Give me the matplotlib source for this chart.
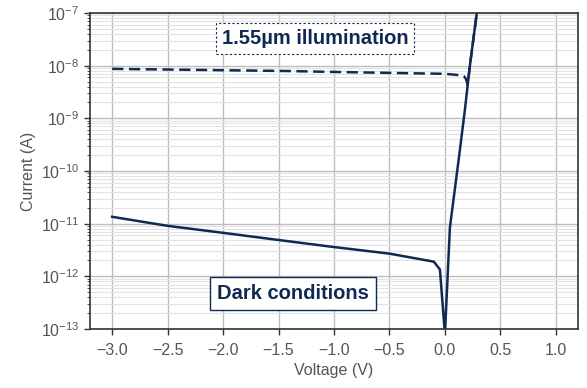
import numpy as np
import matplotlib.pyplot as plt
from matplotlib.ticker import LogLocator, NullFormatter

# dark current (solid)
v_dark = [-3.0, -2.5, -2.0, -1.5, -1.0, -0.5, -0.1, -0.045, 0.0, 0.045, 0.135, 0.18, 0.225, 0.29]
i_dark = [1.35e-11, 9.1e-12, 6.7e-12, 4.9e-12, 3.6e-12, 2.7e-12, 1.9e-12, 1.35e-12, 8e-14,
          8.5e-12, 2.5e-10, 1.45e-9, 1e-8, 1.1e-7]

# 1.55um illumination (dashed)
v_ill = [-3.0, -2.0, -1.4, -1.0, -0.5, 0.0, 0.135, 0.17, 0.19, 0.205, 0.225, 0.29]
i_ill = [8.7e-9, 8.2e-9, 7.9e-9, 7.6e-9, 7.3e-9, 7.0e-9, 6.6e-9, 6.3e-9, 5.6e-9, 4.3e-9, 1e-8, 1.1e-7]

xticks = [-3.0, -2.5, -2.0, -1.5, -1.0, -0.5, 0.0, 0.5, 1.0]

navy = "#0f2a52"
plt.rcParams['font.family'] = ['Liberation Sans', 'DejaVu Sans']
plt.rcParams['mathtext.fontset'] = 'custom'
plt.rcParams['mathtext.rm'] = 'Liberation Sans'
plt.rcParams['mathtext.it'] = 'Liberation Sans:italic'
plt.rcParams['mathtext.bf'] = 'Liberation Sans:bold'

fig = plt.figure(figsize=(5.87, 3.88), dpi=100)
ax = fig.add_axes([0.1533, 0.152, 0.8314, 0.8145])

ax.plot(v_dark, i_dark, color=navy, lw=1.8)
ax.plot(v_ill, i_ill, color=navy, lw=1.8, ls=(0, (4.5, 2.2)))

ax.set_yscale("log")
ax.set_xlim(-3.2, 1.2)
ax.set_ylim(1e-13, 1e-7)
ax.set_xticks(xticks)
ax.set_xticklabels([f"{t:.1f}".replace("-", "\u2212") for t in xticks])
ax.yaxis.set_major_locator(LogLocator(base=10, numticks=10))
ax.yaxis.set_minor_locator(LogLocator(base=10, subs=np.arange(2, 10), numticks=100))
ax.yaxis.set_minor_formatter(NullFormatter())

ax.grid(which="major", color="#bdbdbd", lw=1.0)
ax.grid(which="minor", axis="y", color="#e3e3e3", lw=0.8)
ax.set_axisbelow(True)

for s in ax.spines.values():
    s.set_color("#333333")
    s.set_linewidth(1.2)
ax.tick_params(axis="both", which="major", colors="#333333", labelcolor="#555555", labelsize=11.5, length=4, width=1)
ax.tick_params(axis="x", which="major", pad=6)
ax.tick_params(axis="y", which="minor", colors="#333333", length=2.5, width=0.6)

ax.set_xlabel("Voltage (V)", fontsize=11.5, color="#555555", labelpad=4)
ax.set_ylabel("Current (A)", fontsize=11.5, color="#555555", labelpad=4)

ax.text(0.27, 0.918, "1.55\u00b5m illumination", transform=ax.transAxes, fontsize=14.5,
        fontweight="bold", color=navy, va="center", ha="left",
        bbox=dict(boxstyle="square,pad=0.3", fc="white", ec=navy, lw=0.8, ls=(0, (2, 2))))
ax.text(0.26, 0.111, "Dark conditions", transform=ax.transAxes, fontsize=14.5,
        fontweight="bold", color=navy, va="center", ha="left",
        bbox=dict(boxstyle="square,pad=0.35", fc="white", ec=navy, lw=1.0))

fig.savefig("out.png", dpi=100)
